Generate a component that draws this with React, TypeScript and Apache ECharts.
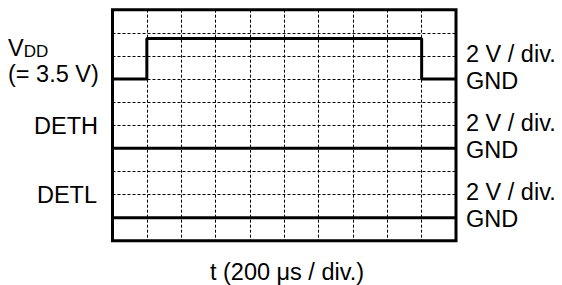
import React, { useEffect, useRef } from "react";
import * as echarts from "echarts";

// Time axis: 200 µs per division, 10 divisions
const timeTicksUs = [0, 200, 400, 600, 800, 1000, 1200, 1400, 1600, 1800, 2000];
// VDD trace (time in µs, level in V)
const vddTimes = [0, 200, 200, 1800, 1800, 2000];
const vddVolts = [0, 0, 3.5, 3.5, 0, 0];
// DETH trace
const dethTimes = [0, 2000];
const dethVolts = [0, 0];
// DETL trace
const detlTimes = [0, 2000];
const detlVolts = [0, 0];
// GND position of each channel (in vertical divisions from bottom)
const channelNames = ["VDD", "DETH", "DETL"];
const gndDivs = [7, 4, 1];
const voltsPerDiv = 2;
const scaleLabel = "2 V / div.";
const gndLabel = "GND";
const xTitle = "t (200 μs / div.)";

const FONT = "'Liberation Sans', Arial, Helvetica, sans-serif";
const FS = 23.5;

function toPoints(times: number[], volts: number[], gnd: number) {
  return times.map((t, i) => [t, gnd + volts[i] / voltsPerDiv]);
}

export default function App() {
  const ref = useRef<HTMLDivElement>(null);
  useEffect(() => {
    if (!ref.current) return;
    const chart = echarts.init(ref.current, undefined, { renderer: "svg" });
    const traceStyle = { color: "#000", width: 3 };
    const series = [
      { name: channelNames[0], data: toPoints(vddTimes, vddVolts, gndDivs[0]) },
      { name: channelNames[1], data: toPoints(dethTimes, dethVolts, gndDivs[1]) },
      { name: channelNames[2], data: toPoints(detlTimes, detlVolts, gndDivs[2]) },
    ].map((s) => ({
      type: "line" as const,
      name: s.name,
      data: s.data,
      showSymbol: false,
      symbol: "none",
      lineStyle: traceStyle,
      z: 5,
    }));

    const textStyle = (text: string, extra: any = {}) => ({
      text,
      fill: "#000",
      fontSize: FS,
      fontFamily: FONT,
      ...extra,
    });

    const rightLabels: any[] = [];
    const rightY = [[54, 81.2], [123, 150.2], [192, 219.2]];
    rightY.forEach(([a, b]) => {
      rightLabels.push({
        type: "text",
        x: 466,
        y: a,
        style: textStyle(scaleLabel, { align: "left", verticalAlign: "middle" }),
      });
      rightLabels.push({
        type: "text",
        x: 466,
        y: b,
        style: textStyle(gndLabel, { align: "left", verticalAlign: "middle" }),
      });
    });

    chart.setOption({
      animation: false,
      grid: {
        left: 112.5,
        right: 106,
        top: 9.7,
        bottom: 44.2,
        show: true,
        borderColor: "#000",
        borderWidth: 3,
        backgroundColor: "transparent",
      },
      xAxis: {
        type: "value",
        min: timeTicksUs[0],
        max: timeTicksUs[timeTicksUs.length - 1],
        interval: timeTicksUs[1] - timeTicksUs[0],
        axisLine: { show: false },
        axisTick: { show: false },
        axisLabel: { show: false },
        splitLine: { show: true, lineStyle: { color: "#000", width: 1, type: [3, 2] } },
      },
      yAxis: {
        type: "value",
        min: 0,
        max: 10,
        interval: 1,
        axisLine: { show: false },
        axisTick: { show: false },
        axisLabel: { show: false },
        splitLine: { show: true, lineStyle: { color: "#000", width: 1, type: [3, 2] } },
      },
      series,
      graphic: [
        {
          type: "text",
          x: 8,
          y: 48,
          style: {
            text: "{v|V}{d|DD}",
            fill: "#000",
            align: "left",
            verticalAlign: "middle",
            rich: {
              v: { fontSize: FS, fontFamily: FONT, fill: "#000", verticalAlign: "bottom" },
              d: { fontSize: 17, fontFamily: FONT, fill: "#000", verticalAlign: "bottom" },
            },
          },
        },
        {
          type: "text",
          x: 8,
          y: 74,
          style: textStyle("(= 3.5 V)", { align: "left", verticalAlign: "middle" }),
        },
        {
          type: "text",
          x: 98,
          y: 126,
          style: textStyle("DETH", { align: "right", verticalAlign: "middle" }),
        },
        {
          type: "text",
          x: 97,
          y: 194.5,
          style: textStyle("DETL", { align: "right", verticalAlign: "middle" }),
        },
        ...rightLabels,
        {
          type: "text",
          x: 287,
          y: 272,
          style: textStyle(xTitle, { align: "center", verticalAlign: "middle" }),
        },
      ],
    });
    return () => chart.dispose();
  }, []);
  return <div ref={ref} style={{ width: 562, height: 285, position: "absolute", left: 0, top: 0 }} />;
}
